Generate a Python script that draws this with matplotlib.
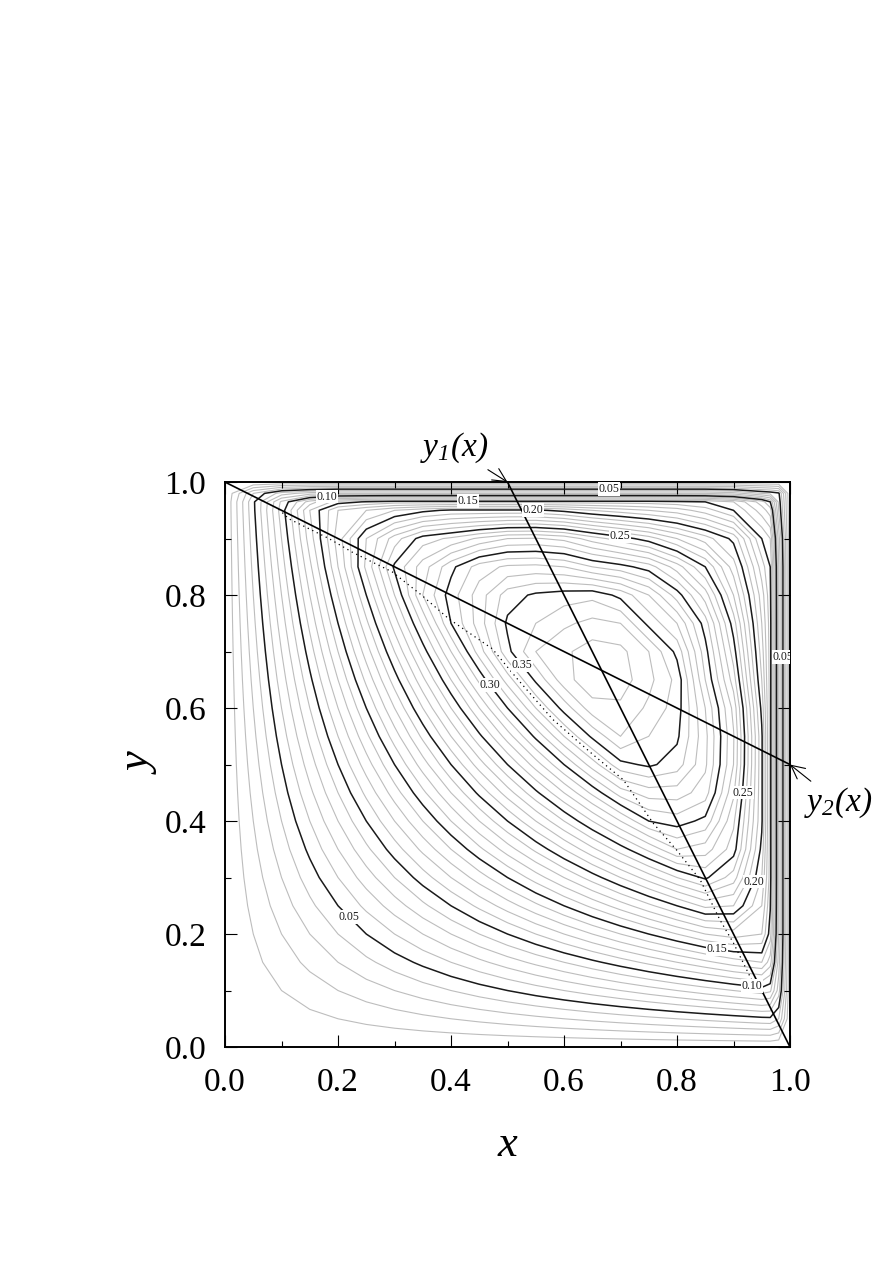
import matplotlib
matplotlib.use("Agg")
import matplotlib.pyplot as plt
from matplotlib.ticker import MultipleLocator, FormatStrFormatter

plt.rcParams['font.family'] = ['Liberation Serif', 'DejaVu Serif']
plt.rcParams['mathtext.fontset'] = 'custom'
plt.rcParams['mathtext.it'] = 'Liberation Serif:italic'
plt.rcParams['mathtext.rm'] = 'Liberation Serif:italic'

# grid nodes, same along x and y (denser next to the walls)
nodes = [0.0, 0.05, 0.1, 0.15, 0.2, 0.25, 0.3, 0.35, 0.4, 0.45, 0.5, 0.55,
         0.6, 0.65, 0.7, 0.75, 0.8, 0.85, 0.9, 0.95, 0.965, 0.98, 1.0]

# field values: one row per y node, one column per x node
psi = [
    [0, 0, 0, 0, 0, 0, 0, 0, 0, 0, 0, 0, 0, 0, 0, 0, 0, 0, 0, 0, 0, 0, 0],
    [0, .0025, .005, .0075, .01, .0125, .015, .0175, .02, .0225, .025, .0275, .03, .0325, .035, .0375, .04, .0425, .045, .0475, .048, .04, 0],
    [0, .005, .01, .015, .02, .025, .03, .035, .04, .045, .05, .055, .06, .065, .07, .075, .08, .085, .09, .095, .092, .065, 0],
    [0, .0075, .015, .0225, .03, .0375, .045, .0525, .06, .0675, .075, .0825, .09, .0975, .105, .1125, .12, .1275, .135, .14, .125, .075, 0],
    [0, .01, .02, .03, .04, .05, .06, .07, .08, .09, .10, .11, .12, .13, .14, .15, .16, .17, .175, .17, .145, .08, 0],
    [0, .0125, .025, .0375, .05, .0625, .075, .0875, .10, .1125, .125, .1375, .15, .1625, .175, .1875, .20, .2125, .21, .18, .151, .08, 0],
    [0, .015, .03, .045, .06, .075, .09, .105, .12, .135, .15, .165, .18, .195, .21, .225, .24, .252, .235, .19, .155, .08, 0],
    [0, .0175, .035, .0525, .07, .0875, .105, .1225, .14, .1575, .175, .1925, .21, .2275, .245, .2625, .28, .275, .255, .197, .155, .08, 0],
    [0, .02, .04, .06, .08, .10, .12, .14, .16, .18, .20, .22, .24, .26, .28, .30, .305, .297, .262, .202, .155, .08, 0],
    [0, .0225, .045, .0675, .09, .1125, .135, .1575, .18, .2025, .225, .2475, .27, .2925, .315, .325, .325, .315, .272, .202, .155, .08, 0],
    [0, .025, .05, .075, .10, .125, .15, .175, .20, .225, .25, .275, .30, .325, .347, .352, .345, .322, .28, .202, .155, .08, 0],
    [0, .0275, .055, .0825, .11, .1375, .165, .1925, .22, .2475, .275, .3025, .33, .352, .37, .36, .352, .323, .281, .202, .155, .08, 0],
    [0, .03, .06, .09, .12, .15, .18, .21, .24, .27, .30, .33, .354, .376, .378, .368, .355, .32, .277, .197, .155, .08, 0],
    [0, .0325, .065, .0975, .13, .1625, .195, .2275, .26, .2925, .325, .352, .376, .387, .385, .373, .357, .31, .265, .19, .155, .08, 0],
    [0, .035, .07, .105, .14, .175, .21, .245, .28, .315, .347, .37, .378, .385, .383, .37, .347, .304, .255, .185, .155, .08, 0],
    [0, .0375, .075, .1125, .15, .1875, .225, .2625, .30, .325, .352, .36, .368, .373, .37, .347, .33, .295, .245, .18, .155, .08, 0],
    [0, .04, .08, .12, .16, .20, .24, .28, .305, .325, .345, .352, .355, .357, .347, .33, .305, .275, .23, .175, .153, .08, 0],
    [0, .0425, .085, .1275, .17, .2125, .252, .275, .297, .315, .322, .323, .32, .31, .304, .295, .275, .25, .215, .165, .15, .08, 0],
    [0, .045, .09, .135, .175, .21, .235, .255, .262, .272, .28, .281, .277, .265, .255, .245, .23, .215, .197, .15, .14, .075, 0],
    [0, .0475, .095, .14, .17, .18, .19, .197, .202, .202, .202, .202, .197, .19, .185, .18, .175, .165, .15, .125, .115, .06, 0],
    [0, .048, .092, .125, .145, .151, .155, .155, .155, .155, .155, .155, .155, .155, .155, .155, .153, .15, .14, .115, .10, .057, 0],
    [0, .04, .065, .075, .08, .08, .08, .08, .08, .08, .08, .08, .08, .08, .08, .08, .08, .08, .075, .06, .057, .052, 0],
    [0, 0, 0, 0, 0, 0, 0, 0, 0, 0, 0, 0, 0, 0, 0, 0, 0, 0, 0, 0, 0, 0, 0],
]

grey_levels = [0.01, 0.02, 0.03, 0.04, 0.06, 0.07, 0.08, 0.09, 0.11, 0.12, 0.13, 0.14,
               0.16, 0.17, 0.18, 0.19, 0.21, 0.22, 0.23, 0.24, 0.26, 0.27, 0.28, 0.29,
               0.31, 0.32, 0.33, 0.34, 0.36, 0.37, 0.38, 0.39]
black_levels = [0.05, 0.10, 0.15, 0.20, 0.25, 0.30, 0.35]

# where the contour labels sit
label_pos = [(0.215, 0.225), (0.68, 0.99), (0.988, 0.69), (0.18, 0.975), (0.933, 0.11),
             (0.43, 0.968), (0.871, 0.172), (0.545, 0.945), (0.938, 0.292),
             (0.70, 0.913), (0.92, 0.45), (0.469, 0.641), (0.52, 0.672)]

# the two straight lines y1(x), y2(x)
y1_x = [0.5, 1.0]
y1_y = [1.0, 0.0]
y2_x = [0.0, 1.0]
y2_y = [1.0, 0.5]

# dotted curve
dot_x = [0.095, 0.113, 0.184, 0.225, 0.296, 0.349, 0.396, 0.473, 0.517, 0.58,
         0.652, 0.705, 0.758, 0.799, 0.841, 0.876, 0.9, 0.935, 0.952]
dot_y = [0.952, 0.935, 0.9, 0.876, 0.841, 0.799, 0.758, 0.705, 0.652, 0.58,
         0.517, 0.473, 0.396, 0.349, 0.296, 0.225, 0.184, 0.113, 0.095]

fig = plt.figure(figsize=(8.77, 12.63), dpi=100)
ax = fig.add_axes([0.2566, 0.1710, 0.6442, 0.4473])

ax.contour(nodes, nodes, psi, levels=grey_levels, colors='#bdbdbd',
           linewidths=0.8, zorder=1)
cs = ax.contour(nodes, nodes, psi, levels=black_levels, colors='#1a1a1a',
                linewidths=1.1, zorder=2)
labels = ax.clabel(cs, manual=label_pos, inline=False, fmt='%.2f', fontsize=8.5)
for t in labels:
    t.set_rotation(0)
    t.set_zorder(6)
    t.set_bbox(dict(facecolor='white', edgecolor='none', pad=0.6))

ax.plot(dot_x, dot_y, color='black', lw=0.9, linestyle=(0, (1, 3)), zorder=3)
ax.plot(y1_x, y1_y, color='black', lw=1.2, zorder=4)
ax.plot(y2_x, y2_y, color='black', lw=1.2, zorder=4)

ax.annotate(r'$y_1(x)$', xy=(0.5, 1.0), xytext=(0.405, 1.06), fontsize=24,
            ha='center', va='center', annotation_clip=False,
            arrowprops=dict(arrowstyle='->', lw=0.8, color='black',
                            shrinkA=2, shrinkB=0))
ax.annotate(r'$y_2(x)$', xy=(1.0, 0.5), xytext=(1.085, 0.432), fontsize=24,
            ha='center', va='center', annotation_clip=False,
            arrowprops=dict(arrowstyle='->', lw=0.8, color='black',
                            shrinkA=2, shrinkB=0))

ax.set_xlim(0, 1)
ax.set_ylim(0, 1)
ax.xaxis.set_major_locator(MultipleLocator(0.2))
ax.xaxis.set_minor_locator(MultipleLocator(0.1))
ax.yaxis.set_major_locator(MultipleLocator(0.2))
ax.yaxis.set_minor_locator(MultipleLocator(0.1))
ax.xaxis.set_major_formatter(FormatStrFormatter('%.1f'))
ax.yaxis.set_major_formatter(FormatStrFormatter('%.1f'))
ax.tick_params(which='both', direction='in', top=True, right=True, width=0.8)
ax.tick_params(which='major', length=8.5, labelsize=24)
ax.tick_params(axis='x', which='major', pad=15)
ax.tick_params(axis='y', which='major', pad=13.5)
ax.tick_params(which='minor', length=4.5)
for s in ax.spines.values():
    s.set_linewidth(1.4)

ax.set_xlabel('x', fontsize=32, fontstyle='italic')
ax.xaxis.set_label_coords(0.5, -0.173)
ax.xaxis.label.set_verticalalignment('center')
ax.set_ylabel('y', fontsize=32, fontstyle='italic')
ax.yaxis.set_label_coords(-0.15, 0.5)
ax.yaxis.label.set_verticalalignment('center')

plt.savefig('out.png', dpi=100)
